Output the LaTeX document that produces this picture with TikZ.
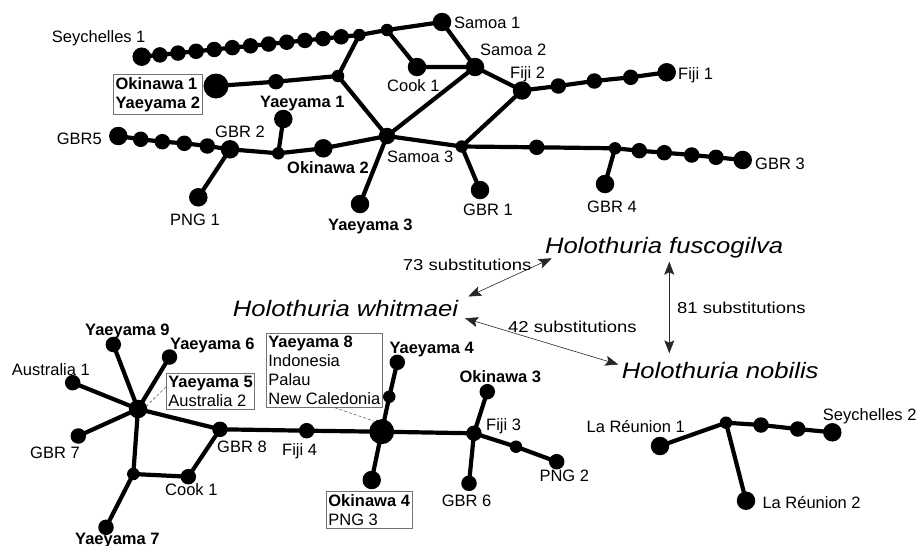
\documentclass[tikz,border=0pt]{standalone}
\usepackage{fontspec}
\setmainfont{Liberation Sans}
\usetikzlibrary{arrows.meta,calc}
\newcommand{\specname}[1]{\fontsize{22.3}{26}\selectfont\itshape\scalebox{1.15}[1]{#1}}
\newcommand{\subsname}[1]{\fontsize{15.8}{19}\selectfont\scalebox{1.17}[1]{#1}}
\begin{document}
\begin{tikzpicture}[x=1pt,y=-1pt,
  hap/.style={circle,fill=black,draw=none,inner sep=0pt},
  jn/.style={hap,minimum size=12.5pt},
  sm/.style={hap,minimum size=15.5pt},
  md/.style={hap,minimum size=16.5pt},
  lg/.style={hap,minimum size=18.5pt},
  xl/.style={hap,minimum size=25pt},
  lnk/.style={line width=4.2pt,black,line join=round},
  lab/.style={font=\fontsize{16.5}{19}\selectfont, inner sep=0pt, text height=11.8pt, text depth=0pt, anchor=west},
  blab/.style={lab,font=\fontsize{16.5}{19}\selectfont\bfseries},
  lbox/.style={draw=black!55, line width=0.7pt, align=left, inner xsep=2pt, inner ysep=2.8pt, anchor=north west, font=\fontsize{16.5}{19}\selectfont},
  spc/.style={inner sep=0pt, text height=16pt, text depth=0pt, anchor=west},
  subl/.style={inner sep=0pt, text height=11.3pt, text depth=0pt, anchor=west},
  arr/.style={{Stealth[length=13pt,width=10pt,inset=2.5pt]}-{Stealth[length=13pt,width=10pt,inset=2.5pt]}, line width=0.6pt, black!85},
  lead/.style={dash pattern=on 3pt off 2pt, black!60, line width=0.6pt}
]
\useasboundingbox (0,0) rectangle (921,546);

% ---------------- top network ----------------
\node[lg] (sey1) at (141.7,56.7) {};
\node[jn] (j1) at (359.3,35) {};
\foreach \i in {1,...,11} \node[sm] (sb\i) at ($(sey1)!\i/12!(j1)$) {};
\node[jn] (j2) at (387,30) {};
\node[lg] (sam1) at (442,22) {};
\node[lg] (cook1t) at (417,67) {};
\node[lg] (sam2) at (475,67) {};
\node[lg] (fiji2) at (522,90.5) {};
\node[sm] (fb1) at (558.3,86) {};
\node[sm] (fb2) at (594.3,81) {};
\node[sm] (fb3) at (630.7,77.3) {};
\node[lg] (fiji1) at (666.7,72.3) {};
\node[jn] (j3) at (338,76) {};
\node[xl] (ok1) at (216,86) {};
\node[sm] (ob1) at (276,81.7) {};
\node[md] (sam3) at (387,136) {};
\node[jn] (j4) at (461.7,146.5) {};
\node[lg] (ok2) at (323.3,148.3) {};
\node[jn] (j5) at (278.3,153.3) {};
\node[lg] (yae1) at (283.3,119) {};
\node[lg] (gbr2) at (230,149.3) {};
\node[sm] (gb4) at (207.3,146) {};
\node[sm] (gb3) at (184.3,143.3) {};
\node[sm] (gb2) at (162.3,141.7) {};
\node[sm] (gb1) at (140.7,139.3) {};
\node[lg] (gbr5) at (118.3,136) {};
\node[lg] (png1) at (198.3,197.3) {};
\node[lg] (yae3) at (360,204) {};
\node[sm] (rb1) at (536.7,147.3) {};
\node[jn] (j6) at (615,148.3) {};
\node[sm] (rb2) at (639.3,150.7) {};
\node[sm] (rb3) at (664.3,152.7) {};
\node[sm] (rb4) at (691.7,155) {};
\node[sm] (rb5) at (716,157.3) {};
\node[lg] (gbr3) at (742.7,160) {};
\node[lg] (gbr4) at (605,184) {};
\node[lg] (gbr1) at (480,190) {};

\draw[lnk] (sey1.center) foreach \i in {1,...,11}{ -- (sb\i.center)} -- (j1.center) -- (j2.center) -- (sam1.center) -- (sam2.center) -- (fiji2.center) -- (fb1.center) -- (fb2.center) -- (fb3.center) -- (fiji1.center);
\draw[lnk] (j2.center) -- (cook1t.center) -- (sam2.center) -- (sam3.center);
\draw[lnk] (fiji2.center) -- (j4.center);
\draw[lnk] (j1.center) -- (j3.center) -- (sam3.center) -- (j4.center);
\draw[lnk] (ok1.center) -- (ob1.center) -- (j3.center);
\draw[lnk] (sam3.center) -- (ok2.center) -- (j5.center) -- (gbr2.center) -- (gb4.center) -- (gb3.center) -- (gb2.center) -- (gb1.center) -- (gbr5.center);
\draw[lnk] (j5.center) -- (yae1.center);
\draw[lnk] (gbr2.center) -- (png1.center);
\draw[lnk] (sam3.center) -- (yae3.center);
\draw[lnk] (j4.center) -- (rb1.center) -- (j6.center) -- (rb2.center) -- (rb3.center) -- (rb4.center) -- (rb5.center) -- (gbr3.center);
\draw[lnk] (j6.center) -- (gbr4.center);
\draw[lnk] (j4.center) -- (gbr1.center);

\node[lab] (tsey1) at (51.7,37) {Seychelles 1};
\node[lab] (tsam1) at (454,23) {Samoa 1};
\node[lab] (tsam2) at (480,50) {Samoa 2};
\node[lab] (tfiji2) at (510,73) {Fiji 2};
\node[lab] (tfiji1) at (678,74) {Fiji 1};
\node[lab] (tcook1t) at (387,86) {Cook 1};
\node[lbox] (ok1box) at (113.3,74) {\textbf{Okinawa 1}\\\textbf{Yaeyama 2}};
\node[blab] (tyae1) at (260,102) {Yaeyama 1};
\node[lab] (tgbr2) at (215,132) {GBR 2};
\node[lab] (tgbr5) at (56.7,139) {GBR5};
\node[blab] (tok2) at (287,167.5) {Okinawa 2};
\node[lab] (tsam3) at (387,156.5) {Samoa 3};
\node[lab] (tpng1) at (170,220) {PNG 1};
\node[blab] (tyae3) at (328,225) {Yaeyama 3};
\node[lab] (tgbr1) at (463,210) {GBR 1};
\node[lab] (tgbr4) at (587,207) {GBR 4};
\node[lab] (tgbr3) at (755,164) {GBR 3};

% ---------------- species and distances ----------------
\node[spc] (hfus) at (545,245.7) {\specname{Holothuria fuscogilva}};
\node[spc] (hwhi) at (232.7,308.3) {\specname{Holothuria whitmaei}};
\node[spc] (hnob) at (621.7,370.5) {\specname{Holothuria nobilis}};
\coordinate (a73s) at (468.3,296.5);
\coordinate (a73e) at (551.7,258.3);
\coordinate (a42s) at (465,318.3);
\coordinate (a42e) at (618.3,364.5);
\coordinate (a81s) at (669.3,261.7);
\coordinate (a81e) at (669.3,353.3);
\draw[arr] (a73s) -- (a73e);
\draw[arr] (a42s) -- (a42e);
\draw[arr] (a81s) -- (a81e);
\node[subl] (t73) at (402.7,265) {\subsname{73 substitutions}};
\node[subl] (t42) at (508,326.7) {\subsname{42 substitutions}};
\node[subl] (t81) at (677,307.5) {\subsname{81 substitutions}};

% ---------------- bottom-left network ----------------
\node[lg] (hub1) at (138,409) {};
\node[sm] (y9) at (113.3,344.5) {};
\node[sm] (y6) at (169.5,357) {};
\node[sm] (au1) at (72.7,382.7) {};
\node[sm] (gbr7) at (78.3,436) {};
\node[sm] (gbr8) at (220,429.3) {};
\node[jn] (j7) at (133.3,474) {};
\node[sm] (cook1b) at (188.3,476.7) {};
\node[sm] (y7) at (106,527.3) {};
\node[sm] (fiji4) at (306.7,430.7) {};
\node[xl] (hub2) at (381.7,431.7) {};
\node[jn] (yb1) at (389.3,396.7) {};
\node[sm] (y4) at (397.3,362.3) {};
\node[lg] (ok4) at (371.7,480) {};
\node[sm] (fiji3) at (474,433.3) {};
\node[sm] (ok3) at (487.3,391.7) {};
\node[sm] (gbr6) at (469,483.3) {};
\node[jn] (pb1) at (516,446.7) {};
\node[sm] (png2) at (556.7,461.7) {};

\draw[lnk] (hub1.center) -- (y9.center);
\draw[lnk] (hub1.center) -- (y6.center);
\draw[lnk] (hub1.center) -- (au1.center);
\draw[lnk] (hub1.center) -- (gbr7.center);
\draw[lnk] (hub1.center) -- (gbr8.center) -- (fiji4.center) -- (hub2.center) -- (fiji3.center);
\draw[lnk] (hub1.center) -- (j7.center) -- (cook1b.center) -- (gbr8.center);
\draw[lnk] (j7.center) -- (y7.center);
\draw[lnk] (hub2.center) -- (yb1.center) -- (y4.center);
\draw[lnk] (hub2.center) -- (ok4.center);
\draw[lnk] (fiji3.center) -- (ok3.center);
\draw[lnk] (fiji3.center) -- (gbr6.center);
\draw[lnk] (fiji3.center) -- (pb1.center) -- (png2.center);

\node[blab] (ty9) at (85,330) {Yaeyama 9};
\node[blab] (ty6) at (170,343.3) {Yaeyama 6};
\node[lab] (tau1) at (11.7,370) {Australia 1};
\node[lab] (tgbr7) at (30,453) {GBR 7};
\node[lab] (tgbr8) at (217,446.5) {GBR 8};
\node[lab] (tfiji4) at (282,450) {Fiji 4};
\node[lab] (tcook1b) at (165,490) {Cook 1};
\node[blab] (ty7) at (75,538.3) {Yaeyama 7};
\node[lbox] (y5box) at (166,372.7) {\textbf{Yaeyama 5}\\Australia 2};
\node[lbox] (y8box) at (266,332.7) {\textbf{Yaeyama 8}\\Indonesia\\Palau\\New Caledonia};
\node[blab] (ty4) at (389.3,347.5) {Yaeyama 4};
\node[blab] (tok3) at (459.3,377) {Okinawa 3};
\node[lab] (tfiji3) at (486,425) {Fiji 3};
\node[lab] (tgbr6) at (441.7,501) {GBR 6};
\node[lab] (tpng2) at (539.3,476) {PNG 2};
\node[lbox] (ok4box) at (326,491) {\textbf{Okinawa 4}\\PNG 3};

\coordinate (y5lead) at ($(y5box.north west)!0.38!(y5box.south west)$);
\draw[lead] (y5lead) -- (hub1.20);
\coordinate (y8lead) at ($(y8box.south west)!0.59!(y8box.south east)$);
\draw[lead] (y8lead) -- (hub2.125);

% ---------------- bottom-right network ----------------
\node[lg] (lr1) at (660,446) {};
\node[jn] (j8) at (726,422.7) {};
\node[sm] (nb1) at (761,425) {};
\node[sm] (nb2) at (797.7,429) {};
\node[lg] (sey2) at (832.3,432.3) {};
\node[lg] (lr2) at (746,500.7) {};
\draw[lnk] (lr1.center) -- (j8.center) -- (nb1.center) -- (nb2.center) -- (sey2.center);
\draw[lnk] (j8.center) -- (lr2.center);
\node[lab,anchor=east] (tlr1) at (685,426.2) {La Réunion 1};
\node[lab] (tsey2) at (822.7,414.2) {Seychelles 2};
\node[lab] (tlr2) at (762.3,503) {La Réunion 2};
\end{tikzpicture}
\end{document}
